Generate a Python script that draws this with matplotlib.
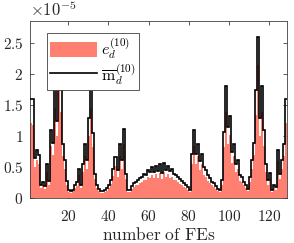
import numpy as np
import matplotlib
matplotlib.use("Agg")
import matplotlib.pyplot as plt
from matplotlib.ticker import FixedLocator, FuncFormatter

plt.rcParams['mathtext.fontset'] = 'cm'
plt.rcParams['font.family'] = ['DejaVu Serif']

# values in units of 1e-5
fe_index = np.arange(1, 129)
m_bar = [1.60, 1.60, 0.65, 0.78, 0.70, 0.22, 0.27, 0.20, 0.55, 0.28,
         1.10, 0.90, 1.83, 1.25, 2.20, 1.75, 0.88, 0.62, 0.28, 0.13,
         0.12, 0.14, 0.22, 0.26, 0.48, 0.22, 0.55, 0.88, 0.62, 1.30,
         1.81, 1.05, 0.40, 0.22, 0.15, 0.12, 0.12, 0.13, 0.16, 0.22,
         0.30, 0.47, 0.67, 0.45, 0.88, 0.62, 1.12, 0.40, 0.13, 0.13,
         0.20, 0.24, 0.27, 0.29, 0.33, 0.35, 0.40, 0.38, 0.45, 0.42,
         0.50, 0.42, 0.52, 0.44, 0.55, 0.41, 0.57, 0.46, 0.52, 0.44,
         0.47, 0.40, 0.38, 0.34, 0.31, 0.28, 0.25, 0.22, 0.18, 0.13,
         0.72, 1.10, 0.72, 0.88, 0.60, 0.72, 0.50, 0.45, 0.37, 0.33,
         0.27, 0.24, 0.20, 0.15, 0.13, 0.29, 1.07, 1.81, 1.15, 1.32,
         0.75, 0.88, 0.55, 0.62, 0.37, 0.35, 0.27, 0.22, 0.15, 0.35,
         0.62, 0.90, 1.75, 2.60, 1.30, 1.81, 1.10, 0.55, 0.29, 0.41,
         0.13, 0.21, 0.18, 0.78, 0.40, 0.62, 0.88, 1.60]
e_d = [1.21, 1.18, 0.50, 0.62, 0.55, 0.17, 0.21, 0.15, 0.42, 0.22,
       0.85, 0.70, 1.45, 1.00, 1.80, 1.40, 0.68, 0.48, 0.22, 0.10,
       0.09, 0.11, 0.17, 0.20, 0.37, 0.17, 0.42, 0.68, 0.48, 1.00,
       1.45, 0.82, 0.31, 0.17, 0.12, 0.09, 0.09, 0.10, 0.12, 0.17,
       0.23, 0.36, 0.52, 0.35, 0.68, 0.48, 0.87, 0.31, 0.10, 0.10,
       0.15, 0.18, 0.21, 0.22, 0.25, 0.27, 0.30, 0.29, 0.34, 0.32,
       0.37, 0.32, 0.39, 0.33, 0.41, 0.31, 0.43, 0.35, 0.39, 0.33,
       0.35, 0.30, 0.29, 0.26, 0.23, 0.21, 0.19, 0.17, 0.14, 0.10,
       0.55, 0.85, 0.55, 0.68, 0.46, 0.55, 0.38, 0.34, 0.28, 0.25,
       0.21, 0.18, 0.15, 0.11, 0.10, 0.22, 0.82, 1.40, 0.88, 1.02,
       0.57, 0.68, 0.42, 0.48, 0.28, 0.27, 0.21, 0.17, 0.11, 0.27,
       0.48, 0.70, 1.35, 2.15, 1.00, 1.40, 0.85, 0.42, 0.22, 0.31,
       0.10, 0.16, 0.14, 0.60, 0.31, 0.48, 0.68, 1.21]
x_ticks = [20, 40, 60, 80, 100, 120]
y_ticks = [0, 0.5, 1, 1.5, 2, 2.5]

fig = plt.figure(figsize=(2.94, 2.43), dpi=100)
ax = fig.add_axes([30.2/294, 1-198.3/243, 256.9/294, (198.3-21)/243])

bars = ax.bar(fe_index + 0.5, e_d, width=1.0, color='#FF8070', linewidth=0,
              label=r'$e_d^{(10)}$', zorder=2)
edges = np.append(fe_index, fe_index[-1] + 1)
st = ax.stairs(m_bar, edges, baseline=None, color='black', linewidth=1.2,
               label=r'$\overline{\mathrm{m}}_d^{(10)}$', zorder=3)

ax.set_xlim(1, 129)
ax.set_ylim(0, 2.86)
ax.xaxis.set_major_locator(FixedLocator(x_ticks))
ax.yaxis.set_major_locator(FixedLocator(y_ticks))
ax.xaxis.set_major_formatter(FuncFormatter(lambda v, p: r'$%g$' % v))
ax.yaxis.set_major_formatter(FuncFormatter(lambda v, p: r'$%g$' % v))
ax.tick_params(direction='in', top=True, right=True, length=3, width=0.6,
               color='#404040', labelsize=11, labelcolor='#262626')
ax.tick_params(axis='x', pad=8)
ax.tick_params(axis='y', pad=5)
for s in ax.spines.values():
    s.set_color('#404040')
    s.set_linewidth(0.6)

ax.set_xlabel(r'$\mathrm{number\ of\ FEs}$', fontsize=12.5, color='#262626', labelpad=2)
ax.text(0.0, 1.005, r'$\times 10^{-5}$', transform=ax.transAxes, fontsize=12,
        color='#262626', ha='left', va='bottom')

leg = ax.legend(handles=[bars, st], loc='upper left', bbox_to_anchor=(0.066, 0.932),
                borderaxespad=0, fontsize=11.5, handlelength=2.9, handleheight=1.1,
                fancybox=False, framealpha=1, edgecolor='#404040', borderpad=0.2,
                labelspacing=0.05, handletextpad=0.25)
leg.get_frame().set_linewidth(0.6)
leg.set_zorder(5)

fig.savefig('out.png', dpi=100)
